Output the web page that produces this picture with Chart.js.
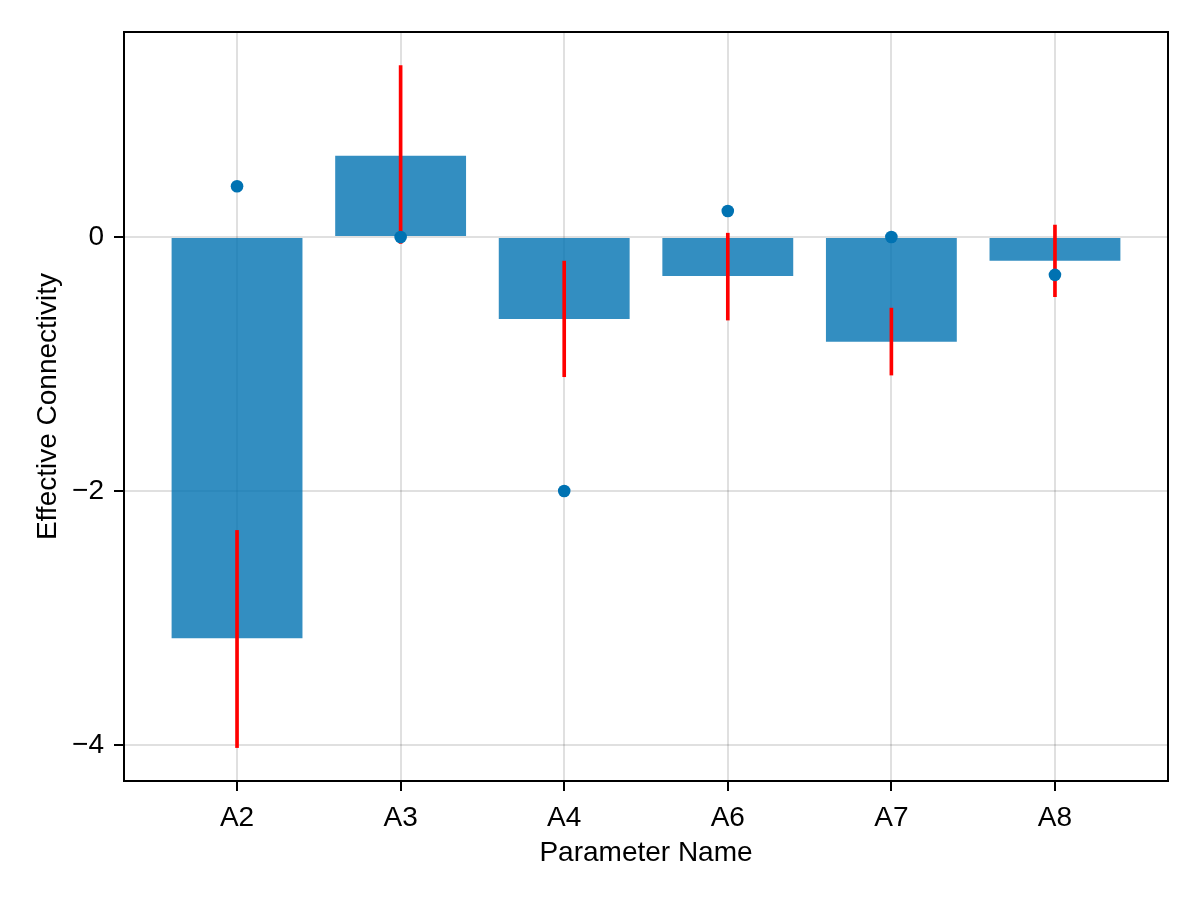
<!DOCTYPE html>
<html>
<head>
<meta charset="utf-8">
<script src="https://cdn.jsdelivr.net/npm/chart.js@4"></script>
<style>
  html, body { margin: 0; padding: 0; background: #fff; }
  #wrap { width: 1200px; height: 900px; }
</style>
</head>
<body>
<div id="wrap"><canvas id="connChart" width="1200" height="900"></canvas></div>
<script>
var categories = ['A2', 'A3', 'A4', 'A6', 'A7', 'A8'];
var barValues = [-3.16, 0.64, -0.646, -0.307, -0.825, -0.187];
var pointValues = [0.40, 0.0, -2.0, 0.205, 0.0, -0.298];
var errLow = [-4.02, -0.05, -1.10, -0.654, -1.087, -0.47];
var errHigh = [-2.31, 1.35, -0.19, 0.03, -0.56, 0.094];
var yTicks = [-4, -2, 0];

var font = { family: "'Liberation Sans', Arial, sans-serif", size: 28 };

// frame around the plot area (Makie style full box)
var framePlugin = {
    id: 'frame',
    afterDraw: function (chart) {
        var a = chart.chartArea, ctx = chart.ctx;
        ctx.save();
        ctx.strokeStyle = '#000';
        ctx.lineWidth = 2;
        ctx.strokeRect(a.left, a.top, a.right - a.left, a.bottom - a.top);
        ctx.restore();
    }
};

var ctx = document.getElementById('connChart').getContext('2d');
var chart = new Chart(ctx, {
    type: 'bar',
    data: {
        datasets: [{
            type: 'scatter',
            data: categories.map(function (c, i) { return { x: i, y: pointValues[i] }; }),
            backgroundColor: '#0072B2',
            borderWidth: 0,
            pointRadius: 6.3,
            order: 0
        }, {
            data: categories.map(function (c, i) { return { x: i, y: [errLow[i], errHigh[i]] }; }),
            backgroundColor: '#ff0000',
            borderWidth: 0,
            barThickness: 3,
            grouped: false,
            order: 1
        }, {
            data: categories.map(function (c, i) { return { x: i, y: barValues[i] }; }),
            backgroundColor: 'rgba(0, 114, 178, 0.8)',
            borderWidth: 0,
            barPercentage: 1,
            categoryPercentage: 0.8,
            grouped: false,
            order: 2
        }]
    },
    options: {
        responsive: false,
        animation: false,
        layout: { padding: { top: 32, right: 32, left: 0, bottom: 0 } },
        plugins: { legend: { display: false }, tooltip: { enabled: false } },
        scales: {
            x: {
                type: 'linear',
                offset: false,
                min: -0.691,
                max: 5.691,
                afterBuildTicks: function (s) { s.ticks = categories.map(function (c, i) { return { value: i }; }); },
                afterFit: function (s) { s.height = 119; },
                ticks: {
                    font: font, color: '#000', padding: 10, maxRotation: 0,
                    callback: function (v) { return categories[v]; }
                },
                grid: { offset: false, color: 'rgba(0,0,0,0.12)', lineWidth: 2, tickColor: '#000', tickWidth: 2, tickLength: 10 },
                border: { display: false },
                title: { display: true, text: 'Parameter Name', font: font, color: '#000', padding: { top: 0, bottom: 30 } }
            },
            y: {
                min: -4.283,
                max: 1.614,
                afterBuildTicks: function (s) { s.ticks = yTicks.map(function (v) { return { value: v }; }); },
                afterFit: function (s) { s.width = 124; },
                ticks: {
                    font: font, color: '#000', padding: 10,
                    callback: function (v) { return v < 0 ? '\u2212' + Math.abs(v) : String(v); }
                },
                grid: { color: 'rgba(0,0,0,0.12)', lineWidth: 2, tickColor: '#000', tickWidth: 2, tickLength: 10 },
                border: { display: false },
                title: { display: true, text: 'Effective Connectivity', font: font, color: '#000', padding: { top: 31, bottom: 0 } }
            }
        }
    },
    plugins: [framePlugin]
});
</script>
</body>
</html>
